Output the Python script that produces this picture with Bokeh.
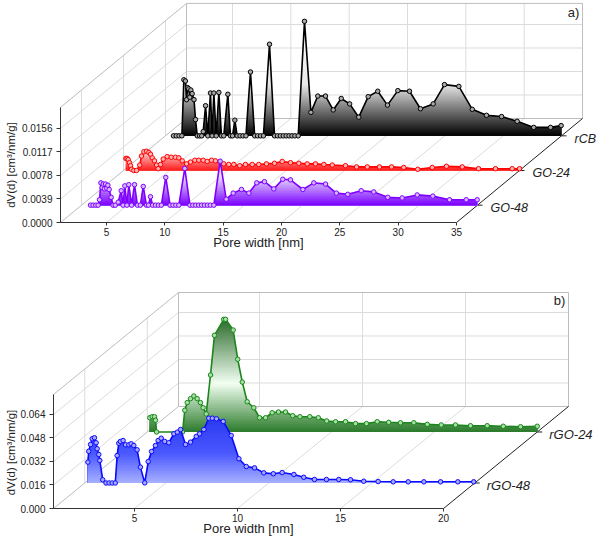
import numpy as np
from bokeh.plotting import figure
from bokeh.layouts import column
from bokeh.models import FixedTicker, NumeralTickFormatter, Label, Range1d
from bokeh.embed import file_html
from bokeh.resources import INLINE

FONT = "Liberation Sans"

# ---------------- data: panel a ----------------
a_series = ["rCB", "GO-24", "GO-48"]
a_depths = [2.5, 1.5, 0.5]

rcb_x = [1.74, 1.98, 2.22, 2.46, 2.63, 2.76, 2.86, 2.95, 3.05, 3.14, 3.23, 3.34, 3.50, 3.63, 3.78, 3.98, 4.16,
         4.29, 4.49, 4.68, 4.91, 5.05, 5.20, 5.40, 5.63, 5.85, 6.05, 6.40, 6.62, 6.80, 7.00, 7.20, 7.45, 7.70,
         7.95, 8.34, 8.70, 8.95, 9.20, 9.45, 9.97, 10.40, 10.65, 10.90, 11.15, 11.40, 11.65, 11.90, 12.15, 12.43,
         12.97, 13.52, 14.11, 14.77, 15.43, 16.12, 16.84, 17.62, 18.43, 19.25, 20.08, 20.97, 21.97, 22.91, 24.00,
         24.97, 26.20, 27.35, 28.57, 29.86, 31.20, 32.62, 34.06, 34.97]
rcb_y = [0, 0, 0, 0, 0.0093, 0.0091, 0.0060, 0.0080, 0.0078, 0.0064, 0.0076, 0.0070, 0.0060, 0.0027, 0, 0, 0,
         0.0007, 0.0050, 0, 0.0071, 0, 0.0071, 0, 0.0072, 0, 0, 0.0069, 0, 0, 0.0026, 0, 0, 0,
         0, 0.0106, 0, 0, 0, 0, 0.0152, 0, 0, 0, 0, 0, 0, 0, 0, 0,
         0.0190, 0.0039, 0.0066, 0.0066, 0.0043, 0.0062, 0.0053, 0.0031, 0.0065, 0.0074, 0.0051, 0.0075, 0.0074,
         0.0045, 0.0053, 0.0085, 0.0082, 0.0044, 0.0034, 0.0032, 0.0024, 0.0014, 0.0014, 0.0017]

go24_x = [1.26, 1.36, 1.46, 1.57, 1.66, 1.74, 1.94, 2.17, 2.45, 2.60, 2.80, 3.03, 3.23, 3.37, 3.52, 3.71, 3.89,
          4.03, 4.23, 4.46, 4.80, 5.15, 5.51, 5.80, 6.09, 6.46, 6.80, 7.17, 7.51, 7.89, 8.23, 8.60, 8.94, 9.31,
          9.65, 10.08, 10.51, 11.02, 11.51, 12.09, 12.65, 13.31, 14.00, 14.66, 15.37, 16.08, 16.80, 17.51, 18.23,
          18.95, 20.08, 21.03, 21.95, 23.00, 24.03, 25.08, 26.28, 27.52, 28.74, 30.09, 31.49, 32.94, 34.37, 35.0]
go24_y = [0.0020, 0.0020, 0.0018, 0.0013, 0.0008, 0.0002, 0, 0, 0.0009, 0.0024, 0.0031, 0.0032, 0.0030, 0.0027,
          0.0021, 0.0016, 0.0009, 0.0003, 0.0010, 0.0019, 0.0023, 0.0022, 0.0022, 0.0021, 0.0016, 0.0011, 0.0014,
          0.0017, 0.0017, 0.0017, 0.0015, 0.0017, 0.0016, 0.0014, 0.0011, 0.0010, 0.0010, 0.0008, 0.0010, 0.0010,
          0.0010, 0.0011, 0.0012, 0.0015, 0.0013, 0.0012, 0.0011, 0.0011, 0.0010, 0.0009, 0.0008, 0.0006, 0.0006,
          0.0006, 0.0006, 0.0005, 0.0002, 0.0005, 0.0007, 0.0006, 0.0003, 0.0003, 0.0003, 0.0003]

go48_x = [1.83, 2.05, 2.28, 2.48, 2.60, 2.72, 2.82, 2.92, 3.02, 3.12, 3.22, 3.32, 3.43, 3.60, 3.76, 3.95,
          4.20, 4.46, 4.62, 4.77, 4.95, 5.11, 5.35, 5.60, 5.85, 6.10, 6.35, 6.62, 6.80, 6.97, 7.15, 7.40, 7.65,
          7.90, 8.28, 8.65, 8.90, 9.15, 9.40, 9.91, 10.35, 10.60, 10.85, 11.10, 11.35, 11.60, 11.85, 12.10, 12.40,
          12.94, 13.46, 14.06, 14.77, 15.40, 16.08, 16.74, 17.54, 18.31, 18.97, 20.03, 20.97, 21.97, 22.90, 23.88,
          25.03, 26.11, 27.31, 28.54, 29.83, 31.17, 32.60, 34.03, 34.97]
go48_y = [0, 0, 0, 0, 0.0009, 0.0037, 0.0029, 0.0035, 0.0027, 0.0035, 0.0028, 0.0033, 0.0026, 0.0013, 0, 0,
          0.0005, 0.0024, 0, 0.0032, 0, 0.0034, 0, 0.0034, 0, 0, 0.0031, 0, 0, 0.0014, 0, 0, 0,
          0, 0.0046, 0, 0, 0, 0, 0.0061, 0, 0, 0, 0, 0, 0, 0, 0, 0,
          0.0073, 0.0010, 0.0020, 0.0026, 0.0020, 0.0037, 0.0039, 0.0027, 0.0043, 0.0042, 0.0026, 0.0037, 0.0035,
          0.0020, 0.0018, 0.0024, 0.0022, 0.0013, 0.0012, 0.0017, 0.0015, 0.0009, 0.0009, 0.0009]

a_xticks = [5, 10, 15, 20, 25, 30, 35]
a_yticks = [0.0, 0.0039, 0.0078, 0.0117, 0.0156]

# ---------------- data: panel b ----------------
b_series = ["rGO-24", "rGO-48"]
b_depths = [1.5, 0.5]

rgo24_x = [1.19, 1.31, 1.42, 1.47, 1.52, 2.78, 2.89, 3.01, 3.17, 3.33, 3.49, 3.65, 3.78, 3.93, 4.14, 4.33, 4.78,
           4.87, 5.24, 5.46, 5.68, 5.92, 6.24, 6.52, 6.81, 7.13, 7.44, 7.78, 8.13, 8.48, 8.96, 9.37, 9.78, 10.21,
           10.69, 11.18, 11.71, 12.23, 12.79, 13.36, 14.01, 14.66, 15.34, 16.03, 16.76, 17.57, 18.35, 19.19, 20.0]
rgo24_y = [0.0097, 0.0104, 0.0104, 0.0080, 0, 0, 0.0148, 0.0200, 0.0227, 0.0245, 0.0227, 0.0200, 0.0165, 0.0123,
           0.0388, 0.0658, 0.0767, 0.0767, 0.0694, 0.0495, 0.0340, 0.0206, 0.0165, 0.0097, 0.0097, 0.0131, 0.0136,
           0.0136, 0.0111, 0.0104, 0.0104, 0.0097, 0.0075, 0.0070, 0.0070, 0.0057, 0.0057, 0.0070, 0.0066, 0.0063,
           0.0063, 0.0052, 0.0048, 0.0048, 0.0043, 0.0043, 0.0039, 0.0036, 0.0039]

rgo48_x = [1.22, 1.26, 1.35, 1.43, 1.54, 1.62, 1.67, 1.75, 1.80, 1.94, 2.10, 2.25, 2.40, 2.55, 2.64, 2.72, 2.80,
           2.93, 3.05, 3.21, 3.32, 3.45, 3.61, 3.77, 3.98, 4.15, 4.31, 4.50, 4.63, 4.78, 4.95, 5.15, 5.39, 5.56,
           5.72, 5.96, 6.20, 6.48, 6.64, 6.85, 7.09, 7.26, 7.46, 7.79, 8.18, 8.55, 8.91, 9.31, 9.76, 10.22, 10.65,
           11.22, 11.70, 12.22, 12.80, 13.40, 13.97, 14.61, 15.31, 16.04, 16.77, 17.53, 18.34, 19.18, 19.95]
rgo48_y = [0.0142, 0.0216, 0.0262, 0.0301, 0.0308, 0.0274, 0.0233, 0.0194, 0.0153, 0.0022, 0, 0, 0, 0, 0.0187,
           0.0271, 0.0283, 0.0289, 0.0260, 0.0260, 0.0267, 0.0255, 0.0226, 0.0108, 0.0001, 0.0146, 0.0214, 0.0255,
           0.0289, 0.0305, 0.0283, 0.0274, 0.0335, 0.0346, 0.0364, 0.0262, 0.0278, 0.0317, 0.0335, 0.0364, 0.0441,
           0.0441, 0.0437, 0.0419, 0.0323, 0.0165, 0.0112, 0.0103, 0.0069, 0.0063, 0.0071, 0.0058, 0.0039, 0.0024,
           0.0024, 0.0024, 0.0022, 0.0012, 0.0010, 0.0008, 0.0008, 0.0008, 0.0008, 0.0008, 0.0008]

b_xticks = [5, 10, 15, 20]
b_yticks = [0.0, 0.016, 0.032, 0.048, 0.064]

x_title = "Pore width [nm]"
y_title = "dV(d) [cm³/nm/g]"


# ---------------- helpers ----------------
def hex2rgb(h):
    return tuple(int(h[i:i + 2], 16) for i in (1, 3, 5))


def grad_color(stops, z):
    if z <= stops[0][0]:
        return stops[0][1]
    for (z0, c0), (z1, c1) in zip(stops[:-1], stops[1:]):
        if z <= z1:
            t = (z - z0) / (z1 - z0)
            a, b = hex2rgb(c0), hex2rgb(c1)
            return "#%02x%02x%02x" % tuple(int(round(a[i] + (b[i] - a[i]) * t)) for i in range(3))
    return stops[-1][1]


def clip_curve(x, y, level):
    xs, ys = [x[0]], [min(y[0], level)]
    for i in range(1, len(x)):
        y0, y1 = y[i - 1], y[i]
        if (y0 - level) * (y1 - level) < 0:
            t = (level - y0) / (y1 - y0)
            xs.append(x[i - 1] + t * (x[i] - x[i - 1]))
            ys.append(level)
        xs.append(x[i])
        ys.append(min(y1, level))
    return xs, ys


class Panel:
    """Screen mapping of one panel: ref_px = X0 + X1*nm, ref_py = Y0 - Y1*z; figure top at TOP (page px)."""

    def __init__(self, X0, X1, Y0, Y1, top, height):
        self.X0, self.X1, self.Y0, self.Y1 = X0, X1, Y0, Y1
        self.top, self.height = top, height

    def nm(self, px):
        return (px - self.X0) / self.X1

    def z(self, py):
        return (self.Y0 - py) / self.Y1

    def fig(self):
        p = figure(width=600, height=self.height,
                   x_range=Range1d(self.nm(0), self.nm(600)),
                   y_range=Range1d(self.z(self.top + self.height), self.z(self.top)),
                   min_border_left=0, min_border_right=0, min_border_top=0, min_border_bottom=0,
                   output_backend="svg", toolbar_location=None, tools="")
        p.outline_line_color = None
        p.xgrid.visible = False
        p.ygrid.visible = False
        p.background_fill_color = "white"
        p.border_fill_color = "white"
        return p


def style_axes(p, xticks, yticks, x_bounds, y_bounds, yfmt):
    xa, ya = p.xaxis[0], p.yaxis[0]
    xa.ticker = FixedTicker(ticks=xticks)
    ya.ticker = FixedTicker(ticks=yticks)
    ya.formatter = NumeralTickFormatter(format=yfmt)
    xa.bounds = x_bounds
    ya.bounds = y_bounds
    xa.fixed_location = y_bounds[0]
    ya.fixed_location = x_bounds[0]
    for ax in (xa, ya):
        ax.axis_line_color = "#333333"
        ax.axis_line_width = 1
        ax.major_tick_line_color = "#333333"
        ax.minor_tick_line_color = None
        ax.major_tick_in = 0
        ax.major_label_text_font = FONT
        ax.major_label_text_font_size = "10px"
        ax.major_label_text_color = "#222222"
    xa.major_tick_out = 3
    xa.major_label_standoff = 2
    ya.major_tick_out = 4
    ya.major_label_standoff = 4


def draw_box(p, x0, x1, D, proj, ztop, xticks, zticks, depths, tick_len):
    dx, dz = proj

    def P(x, d, z):
        return (x + d * dx, z + d * dz)

    grid, edge, dark = [], [], []
    for xt in xticks:
        if x0 < xt < x1:
            grid.append((P(xt, D, 0), P(xt, D, ztop)))
            grid.append((P(xt, 0, 0), P(xt, D, 0)))
    for zt in zticks[1:]:
        grid.append((P(x0, D, zt), P(x1, D, zt)))
        grid.append((P(x0, 0, zt), P(x0, D, zt)))
    for d in depths:
        grid.append((P(x0, d, 0), P(x0, d, ztop)))
    edge += [(P(x0, D, ztop), P(x1, D, ztop)), (P(x1, D, 0), P(x1, D, ztop)),
             (P(x0, D, 0), P(x1, D, 0)), (P(x0, D, 0), P(x0, D, ztop)),
             (P(x0, 0, ztop), P(x0, D, ztop)), (P(x0, 0, 0), P(x0, D, 0))]
    dark.append((P(x1, 0, 0), P(x1, D, 0)))
    for d in depths:
        a = P(x1, d, 0)
        dark.append((a, (a[0] + tick_len, a[1])))
    for segs, col in ((grid, "#dcdcdc"), (edge, "#bdbdbd"), (dark, "#222222")):
        p.segment(x0=[s[0][0] for s in segs], y0=[s[0][1] for s in segs],
                  x1=[s[1][0] for s in segs], y1=[s[1][1] for s in segs],
                  line_color=col, line_width=1)


def draw_series(p, x, z, d, proj, line_color, marker_fill, stops, band):
    dx, dz = proj
    sx, sy = d * dx, d * dz
    zmax = max(z)
    n = max(1, int(np.ceil(zmax / band)))
    for k in range(n, 0, -1):
        top = k * band
        lev = top if k < n else zmax + band
        cx, cz = clip_curve(x, z, lev)
        col = grad_color(stops, top - band / 2)
        p.varea(x=[v + sx for v in cx], y1=sy, y2=[v + sy for v in cz], fill_color=col)
    xs = [v + sx for v in x]
    ys = [v + sy for v in z]
    p.line(xs, ys, line_color=line_color, line_width=1.6)
    p.scatter(xs, ys, marker="circle", size=4.5, fill_color=marker_fill, line_color=line_color, line_width=1)


def add_label(p, text, x, y, size="13px", style="normal", align="center", xoff=0, yoff=0, angle=0.0):
    p.add_layout(Label(x=x, y=y, text=text, text_font=FONT, text_font_size=size, text_font_style=style,
                       text_color="#222222", text_align=align, text_baseline="middle",
                       x_offset=xoff, y_offset=yoff, angle=angle))


# ---------------- panel a ----------------
A = Panel(47.67, 11.667, 222.0, 6026.0, 0, 268)
A_PROJ = (3.6, 0.005753)     # per depth unit: (nm, z)
A_D = 3
A_XMIN, A_XMAX, A_ZTOP = 1.057, 35.0, 0.0191

pa = A.fig()
style_axes(pa, a_xticks, a_yticks, (A_XMIN, A_XMAX), (0, A_ZTOP), "0.0000")
draw_box(pa, A_XMIN, A_XMAX, A_D, A_PROJ, A_ZTOP, a_xticks, a_yticks, a_depths, 5 / A.X1)

a_data = [(rcb_x, rcb_y, "#000000", "#a8a8a8", [(0, "#000000"), (0.0085, "#e8e8e8"), (0.02, "#ffffff")]),
          (go24_x, go24_y, "#ff0000", "#ffb4b4", [(0, "#ff1a1a"), (0.0032, "#ffd6d6")]),
          (go48_x, go48_y, "#7f00ff", "#d4b8ff", [(0, "#7a00ff"), (0.0045, "#e4d4ff"), (0.0075, "#ffffff")])]
for (sx_, sy_, lc, mf, st), d in zip(a_data, a_depths):
    draw_series(pa, sx_, sy_, d, A_PROJ, lc, mf, st, 2 / A.Y1)

for name, d in zip(a_series, a_depths):
    add_label(pa, name, A_XMAX + d * A_PROJ[0], d * A_PROJ[1], size="12.5px", style="italic",
              align="left", xoff=13, yoff=-3)

add_label(pa, "a)", A.nm(573), A.z(11.5))
add_label(pa, x_title, A.nm(258), A.z(242))
add_label(pa, y_title, A.nm(10.5), A.z(164.5), size="11.5px", angle=np.pi / 2)

# ---------------- panel b ----------------
B = Panel(31.0, 20.6, 508.0, 1469.0, 268, 268)
B_PROJ = (3.034, 0.03472)
B_D = 2
B_XMIN, B_XMAX, B_ZTOP = 1.068, 20.0, 0.0776

pb = B.fig()
style_axes(pb, b_xticks, b_yticks, (B_XMIN, B_XMAX), (0, B_ZTOP), "0.000")
draw_box(pb, B_XMIN, B_XMAX, B_D, B_PROJ, B_ZTOP, b_xticks, b_yticks, b_depths, 5 / B.X1)

b_data = [(rgo24_x, rgo24_y, "#1c861c", "#a6e0a6",
           [(0, "#2a7a2a"), (0.033, "#f2fff2"), (0.077, "#2a6a2a")]),
          (rgo48_x, rgo48_y, "#0a0aff", "#a8a8ff",
           [(0, "#a8b0ff"), (0.02, "#4a58ff"), (0.045, "#2a38f0")])]
for (sx_, sy_, lc, mf, st), d in zip(b_data, b_depths):
    draw_series(pb, sx_, sy_, d, B_PROJ, lc, mf, st, 2 / B.Y1)

for name, d in zip(b_series, b_depths):
    add_label(pb, name, B_XMAX + d * B_PROJ[0], d * B_PROJ[1], style="italic", align="left", xoff=12, yoff=-3)

add_label(pb, "b)", B.nm(559), B.z(300))
add_label(pb, x_title, B.nm(248), B.z(528))
add_label(pb, y_title, B.nm(10.5), B.z(452), size="11.5px", angle=np.pi / 2)

layout = column(pa, pb, margin=(0, 0, 0, 0))
open("out.html", "w").write(file_html(layout, INLINE))
